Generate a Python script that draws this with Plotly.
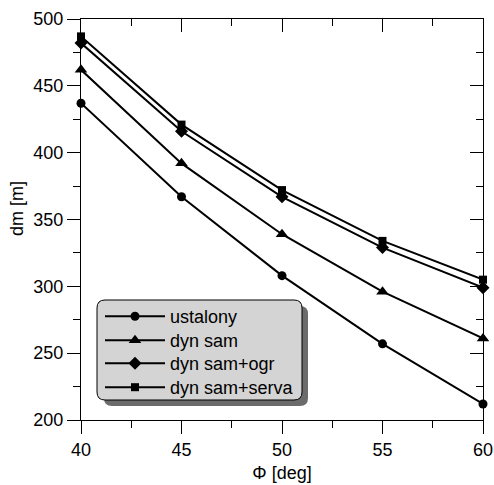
import plotly.graph_objects as go

phi = [40, 45, 50, 55, 60]
ustalony = [437, 367, 308, 257, 212]
dyn_sam = [462, 392, 339, 296, 261]
dyn_sam_ogr = [482, 416, 367, 329, 299]
dyn_sam_serva = [487, 421, 372, 334, 305]

series = [
    ("ustalony", ustalony, "circle", 9),
    ("dyn sam", dyn_sam, "triangle-up", 11),
    ("dyn sam+ogr", dyn_sam_ogr, "diamond", 10),
    ("dyn sam+serva", dyn_sam_serva, "square", 8),
]
legend_rows = [314, 338, 361, 385]  # pixel row centres of legend entries

W, H = 494, 485
L, R, T, B = 81, 11, 19, 65
pw, ph = W - L - R, H - T - B

def px(x):
    return (x - L) / pw

def py(y):
    return (H - B - y) / ph

font = dict(family="Liberation Sans, Arial, sans-serif", size=18, color="black")

fig = go.Figure()
legends = {}
for i, (name, vals, sym, sz) in enumerate(series):
    lg = "legend" if i == 0 else f"legend{i+1}"
    fig.add_trace(go.Scatter(
        x=phi, y=vals, name=name, mode="lines+markers",
        line=dict(color="black", width=2),
        marker=dict(symbol=sym, size=sz, color="black"),
        cliponaxis=False, legend=lg,
    ))
    legends[lg] = dict(
        x=px(100), y=py(legend_rows[i] - 16), xanchor="left", yanchor="top",
        bgcolor="rgba(0,0,0,0)", borderwidth=0, font=font,
        itemwidth=60,
    )

def rrect(x0, y0, x1, y1, r):
    X0, X1 = px(x0), px(x1)
    Y0, Y1 = py(y1), py(y0)
    rx, ry = r / pw, r / ph
    return (f"M {X0+rx},{Y0} L {X1-rx},{Y0} Q {X1},{Y0} {X1},{Y0+ry} "
            f"L {X1},{Y1-ry} Q {X1},{Y1} {X1-rx},{Y1} "
            f"L {X0+rx},{Y1} Q {X0},{Y1} {X0},{Y1-ry} "
            f"L {X0},{Y0+ry} Q {X0},{Y0} {X0+rx},{Y0} Z")

shapes = [
    dict(type="path", xref="paper", yref="paper", path=rrect(104, 306, 308, 406, 8),
         fillcolor="#6b6b6b", line=dict(width=0), layer="below"),
    dict(type="path", xref="paper", yref="paper", path=rrect(97, 300, 302, 400, 8),
         fillcolor="#d4d4d4", line=dict(color="black", width=1), layer="below"),
]

fig.update_layout(
    width=W, height=H,
    margin=dict(l=L, r=R, t=T, b=B, autoexpand=False),
    paper_bgcolor="white", plot_bgcolor="white",
    font=font,
    shapes=shapes,
    showlegend=True,
    annotations=[dict(text="dm [m]", textangle=-90, xref="paper", yref="paper",
                      x=px(17), y=py(209), xanchor="center", yanchor="middle",
                      showarrow=False, font=font)],
    xaxis=dict(
        range=[40, 60], dtick=5, tick0=40, automargin=False,
        ticks="outside", ticklen=13, tickwidth=1, tickcolor="black",
        minor=dict(dtick=2.5, ticks="outside", ticklen=7, tickcolor="black", tickwidth=1),
        showline=True, linecolor="black", linewidth=1,
        showgrid=False, zeroline=False,
        title=dict(text="Φ [deg]", font=font, standoff=7),
        tickfont=font,
    ),
    yaxis=dict(
        range=[200, 500], dtick=50, tick0=200, automargin=False,
        ticks="outside", ticklen=13, tickwidth=1, tickcolor="black",
        minor=dict(dtick=25, ticks="outside", ticklen=7, tickcolor="black", tickwidth=1),
        showline=True, linecolor="black", linewidth=1,
        showgrid=False, zeroline=False,
        tickfont=font,
    ),
    xaxis2=dict(
        range=[40, 60], dtick=5, tick0=40, overlaying="x", side="top", matches="x",
        automargin=False,
        ticks="inside", ticklen=13, tickwidth=1, tickcolor="black",
        minor=dict(dtick=2.5, ticks="inside", ticklen=7, tickcolor="black", tickwidth=1),
        showline=True, linecolor="black", linewidth=1,
        showticklabels=False, showgrid=False, zeroline=False,
    ),
    yaxis2=dict(
        range=[200, 500], dtick=50, tick0=200, overlaying="y", side="right",
        automargin=False,
        ticks="inside", ticklen=13, tickwidth=1, tickcolor="black",
        minor=dict(dtick=25, ticks="inside", ticklen=7, tickcolor="black", tickwidth=1),
        showline=True, linecolor="black", linewidth=1,
        showticklabels=False, showgrid=False, zeroline=False,
    ),
    **legends,
)
fig.add_trace(go.Scatter(x=[None], y=[None], xaxis="x2", yaxis="y2",
                         showlegend=False, hoverinfo="skip"))

fig.write_html("out.html")
